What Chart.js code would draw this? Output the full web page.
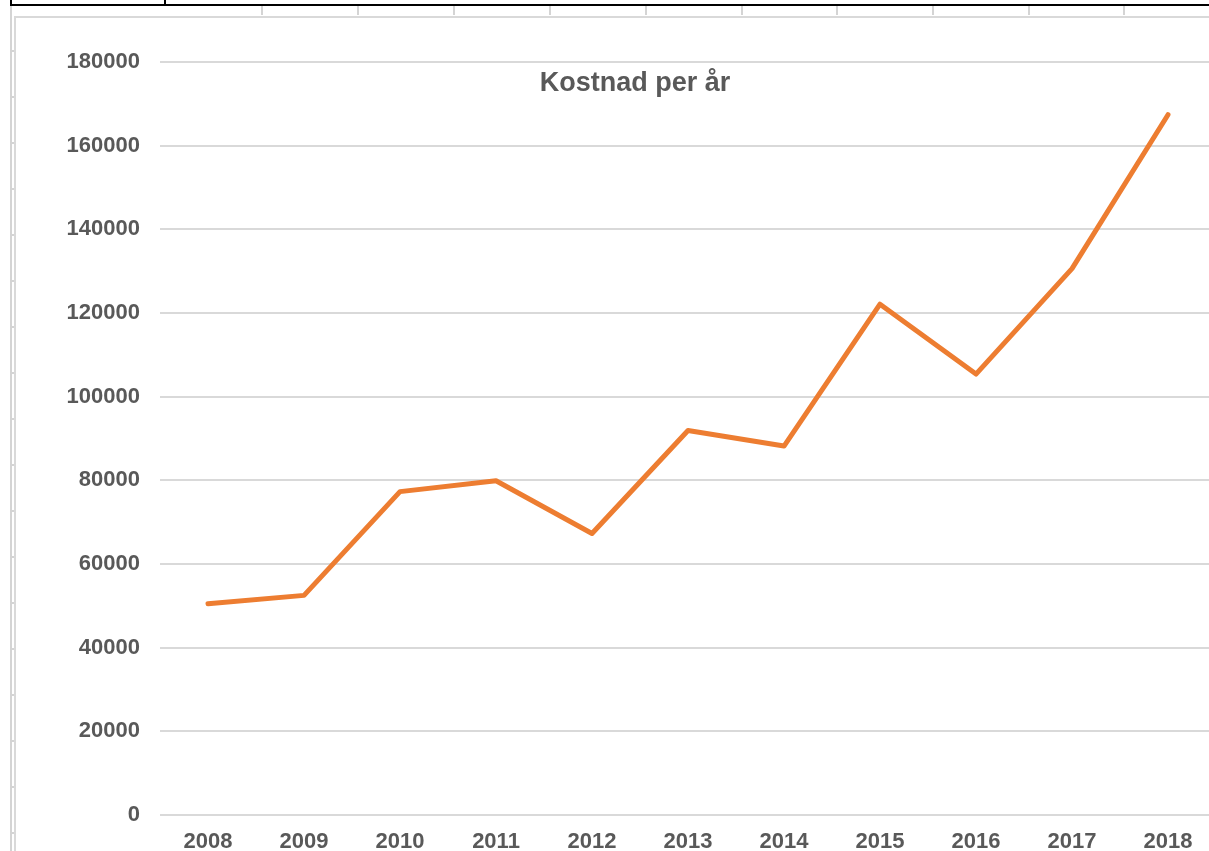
<!DOCTYPE html>
<html>
<head>
<meta charset="utf-8">
<script src="https://cdn.jsdelivr.net/npm/chart.js@4/dist/chart.umd.min.js"></script>
<style>
  html, body { margin: 0; padding: 0; background: #fff; overflow: hidden; }
  body { width: 1209px; height: 851px; position: relative; }
  .sheet-top { position: absolute; left: 10px; top: 0; width: 1199px; height: 4px; border-bottom: 2px solid #000; border-left: 2px solid #000; }
  .sheet-left { position: absolute; left: 10px; top: 6px; width: 2px; height: 845px; background: #d4d4d4; }
  .vline { position: absolute; top: 6px; width: 2px; height: 9px; background: #d4d4d4; }
  .hline { position: absolute; left: 10px; width: 4px; height: 2px; background: #d4d4d4; }
  #wrap { position: absolute; left: 14px; top: 16px; width: 1242px; height: 860px; border-left: 2px solid #d9d9d9; border-top: 2px solid #d9d9d9; box-sizing: border-box; }
</style>
</head>
<body>
<div class="sheet-top"></div>
<div class="sheet-left"></div>
<div id="wrap"><canvas id="chart"></canvas></div>
<script>
// cell borders of the worksheet behind the chart
const cellLines = [261, 357, 453, 549, 645, 741, 836, 932, 1028, 1123];
cellLines.forEach(x => {
  const d = document.createElement("div");
  d.className = "vline";
  d.style.left = x + "px";
  document.body.appendChild(d);
});
const black = document.createElement("div");
black.style.cssText = "position:absolute;left:164px;top:0;width:2px;height:6px;background:#000";
document.body.appendChild(black);
for (let y = 50; y < 851; y += 46) {
  const d = document.createElement("div");
  d.className = "hline";
  d.style.top = y + "px";
  document.body.appendChild(d);
}

const years = ["2008", "2009", "2010", "2011", "2012", "2013", "2014", "2015", "2016", "2017", "2018"];
const kostnad = [50500, 52500, 77300, 79900, 67300, 91900, 88200, 122100, 105400, 130600, 167400];
const chartTitle = "Kostnad per år";

const textColor = "#595959";
const gridColor = "#d9d9d9";

const titlePlugin = {
  id: "overlayTitle",
  afterDraw(chart) {
    const ctx = chart.ctx;
    ctx.save();
    ctx.font = "bold 27px 'Liberation Sans', Arial, sans-serif";
    ctx.fillStyle = textColor;
    ctx.textAlign = "center";
    ctx.textBaseline = "middle";
    ctx.fillText(chartTitle, 619, 66);
    ctx.restore();
  }
};

new Chart(document.getElementById("chart"), {
  type: "line",
  data: {
    labels: years,
    datasets: [{
      label: chartTitle,
      data: kostnad,
      borderColor: "#ed7d31",
      borderWidth: 5,
      borderCapStyle: "round",
      borderJoinStyle: "round",
      pointRadius: 0,
      tension: 0,
      fill: false
    }]
  },
  options: {
    responsive: true,
    maintainAspectRatio: false,
    animation: false,
    layout: { padding: { left: 0, right: 40, top: 44, bottom: 11 } },
    plugins: {
      legend: { display: false },
      tooltip: { enabled: false },
      title: { display: false }
    },
    scales: {
      x: {
        offset: true,
        grid: { display: false, drawTicks: false },
        border: { display: false },
        ticks: {
          color: textColor,
          font: { family: "'Liberation Sans', Arial, sans-serif", size: 22, weight: "bold" },
          padding: 14,
          maxRotation: 0
        },
        afterFit(scale) { scale.height = 50; }
      },
      y: {
        min: 0,
        max: 180000,
        grid: { color: gridColor, lineWidth: 2, drawTicks: false },
        border: { display: false },
        ticks: {
          stepSize: 20000,
          color: textColor,
          font: { family: "'Liberation Sans', Arial, sans-serif", size: 22, weight: "bold" },
          padding: 20,
          callback: v => String(v)
        },
        afterFit(scale) { scale.width = 144; }
      }
    }
  },
  plugins: [titlePlugin]
});
</script>
</body>
</html>
